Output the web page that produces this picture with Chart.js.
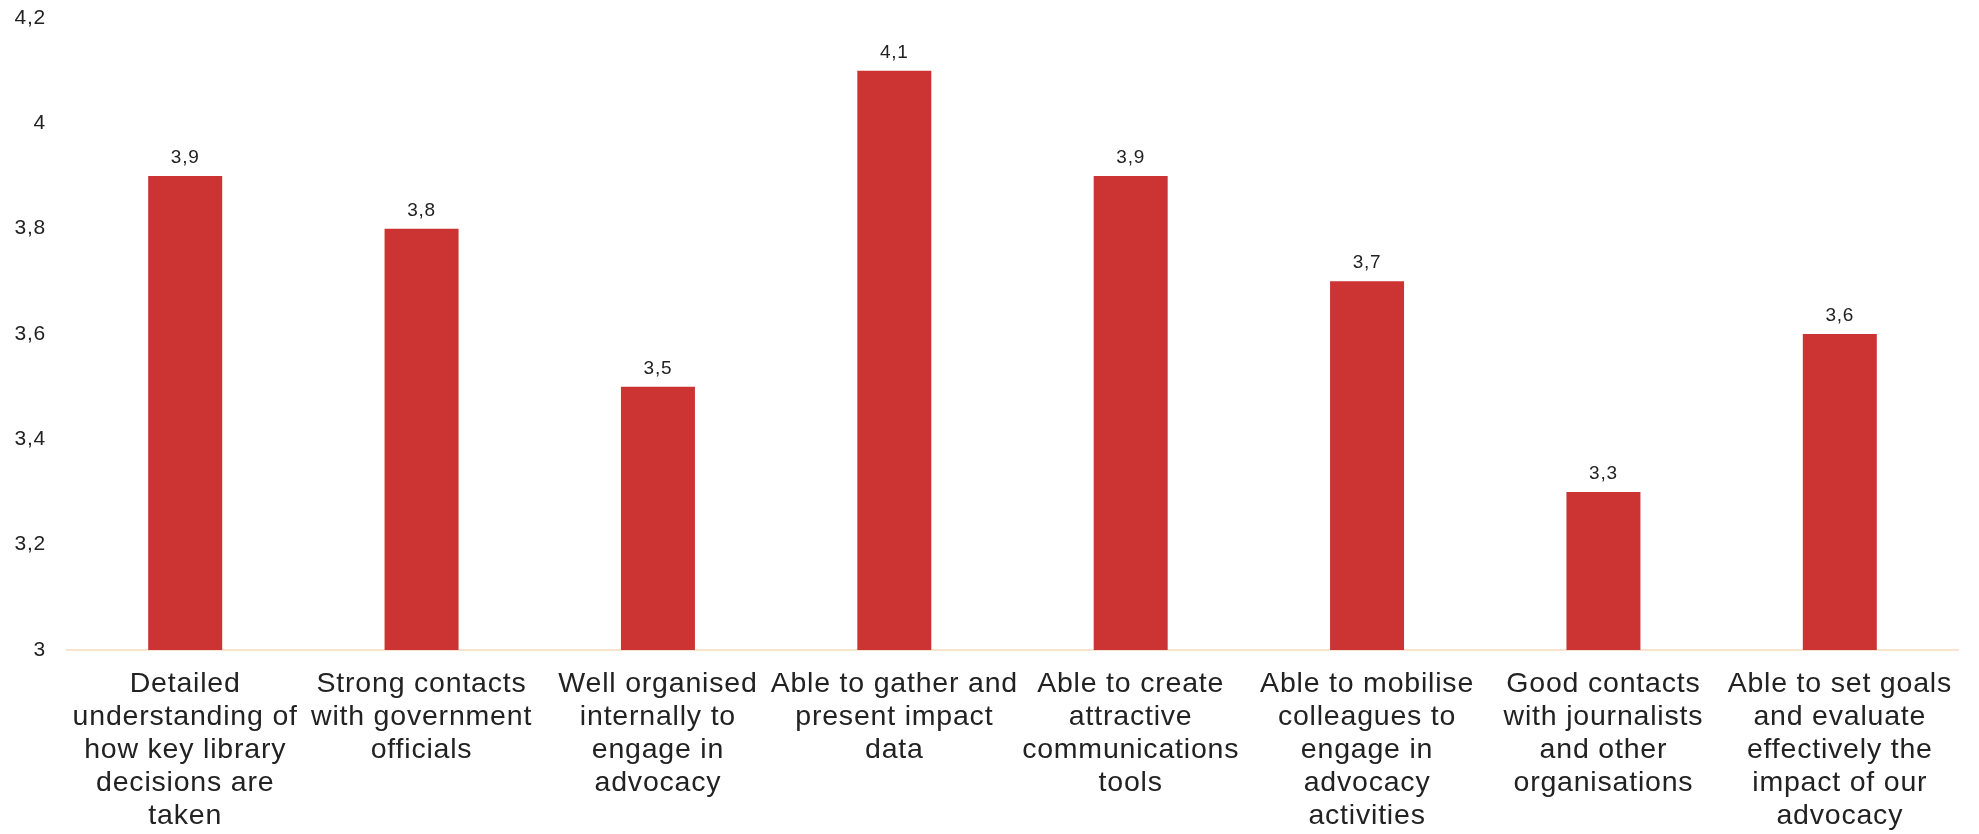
<!DOCTYPE html>
<html>
<head>
<meta charset="utf-8">
<script src="https://cdn.jsdelivr.net/npm/chart.js@4"></script>
<style>
  html, body { margin: 0; padding: 0; background: #fff; }
  #wrap { width: 1979px; height: 834px; }
</style>
</head>
<body>
<div id="wrap"><canvas id="barChart" width="1979" height="834"></canvas></div>
<script>
var categories = [
    ['Detailed', 'understanding of', 'how key library', 'decisions are', 'taken'],
    ['Strong contacts', 'with government', 'officials'],
    ['Well organised', 'internally to', 'engage in', 'advocacy'],
    ['Able to gather and', 'present impact', 'data'],
    ['Able to create', 'attractive', 'communications', 'tools'],
    ['Able to mobilise', 'colleagues to', 'engage in', 'advocacy', 'activities'],
    ['Good contacts', 'with journalists', 'and other', 'organisations'],
    ['Able to set goals', 'and evaluate', 'effectively the', 'impact of our', 'advocacy']
];
var scores = [3.9, 3.8, 3.5, 4.1, 3.9, 3.7, 3.3, 3.6];
var yMin = 3, yMax = 4.2, yStep = 0.2;

function comma(v) {
    return String(Number(v.toFixed(1))).replace('.', ',');
}

// slightly wider letter spacing for all text
var spacing = {
    id: 'spacing',
    beforeLayout: function (chart) { chart.ctx.letterSpacing = '0.8px'; },
    beforeDraw: function (chart) { chart.ctx.letterSpacing = '0.8px'; }
};

// value labels above each bar
var valueLabels = {
    id: 'valueLabels',
    afterDatasetsDraw: function (chart) {
        var ctx = chart.ctx;
        var meta = chart.getDatasetMeta(0);
        ctx.save();
        ctx.font = '19px "Liberation Sans", Arial, sans-serif';
        ctx.fillStyle = '#222';
        ctx.textAlign = 'center';
        ctx.textBaseline = 'alphabetic';
        meta.data.forEach(function (bar, i) {
            ctx.fillText(comma(scores[i]), bar.x, bar.y - 13);
        });
        ctx.restore();
    }
};

var ctx = document.getElementById('barChart').getContext('2d');
var myChart = new Chart(ctx, {
    type: 'bar',
    data: {
        labels: categories,
        datasets: [{
            data: scores,
            backgroundColor: '#cc3333',
            borderWidth: 0,
            categoryPercentage: 1,
            barPercentage: 0.313
        }]
    },
    options: {
        responsive: false,
        animation: false,
        layout: { padding: { top: 18, right: 21, left: 0, bottom: 0 } },
        plugins: {
            legend: { display: false },
            tooltip: { enabled: false }
        },
        scales: {
            x: {
                grid: { display: false },
                border: { display: true, color: '#f7e4cf', width: 2 },
                ticks: {
                    color: '#222',
                    padding: 10,
                    maxRotation: 0,
                    autoSkip: false,
                    font: { family: '"Liberation Sans", Arial, sans-serif', size: 28.5, lineHeight: '33px' }
                },
                afterFit: function (scale) { scale.height = 184; }
            },
            y: {
                min: yMin,
                max: yMax,
                grid: { display: false },
                border: { display: false },
                ticks: {
                    stepSize: yStep,
                    color: '#222',
                    padding: 13,
                    font: { family: '"Liberation Sans", Arial, sans-serif', size: 21 },
                    callback: function (v) { return comma(v); }
                },
                afterFit: function (scale) {
                    scale.width = 67;
                    scale.paddingTop = 0;
                    scale.paddingBottom = 0;
                }
            }
        }
    },
    plugins: [spacing, valueLabels]
});
</script>
</body>
</html>
